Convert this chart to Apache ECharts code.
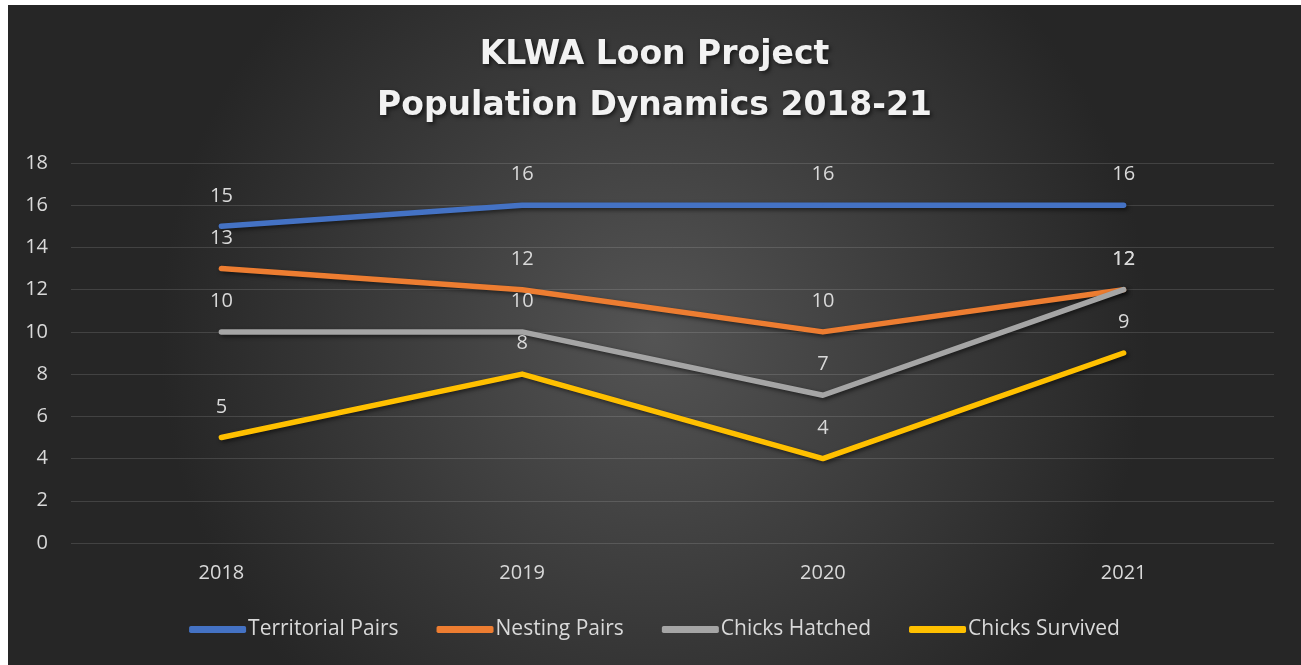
<!DOCTYPE html>
<html>
<head>
<meta charset="utf-8">
<script src="https://cdn.jsdelivr.net/npm/echarts@6/dist/echarts.min.js"></script>
<style>
  html, body { margin: 0; padding: 0; background: #ffffff; }
  #chart { position: absolute; left: 8px; top: 5px; width: 1293px; height: 660px; }
</style>
</head>
<body>
<div id="chart"></div>
<script>
const categories = ['2018', '2019', '2020', '2021'];
const territorialPairs = [15, 16, 16, 16];
const nestingPairs = [13, 12, 10, 12];
const chicksHatched = [10, 10, 7, 12];
const chicksSurvived = [5, 8, 4, 9];
const seriesNames = ['Territorial Pairs', 'Nesting Pairs', 'Chicks Hatched', 'Chicks Survived'];
const seriesColors = ['#4472C4', '#ED7D31', '#A5A5A5', '#FFC000'];
const seriesData = [territorialPairs, nestingPairs, chicksHatched, chicksSurvived];

const FONT = 'Open Sans';
const chart = echarts.init(document.getElementById('chart'));

const series = seriesData.map((d, i) => ({
  name: seriesNames[i],
  type: 'line',
  data: d,
  symbol: 'circle',
  symbolSize: 1,
  itemStyle: { color: seriesColors[i] },
  lineStyle: {
    width: 5.5,
    color: seriesColors[i],
    cap: 'round',
    join: 'round',
    shadowColor: 'rgba(0,0,0,0.55)',
    shadowBlur: 4,
    shadowOffsetX: 2,
    shadowOffsetY: 2
  },
  label: {
    show: true,
    position: 'top',
    distance: 20,
    color: '#d9d9d9',
    fontSize: 20,
    fontFamily: FONT
  },
  emphasis: { disabled: true },
  z: 2 + i
}));

chart.setOption({
  animation: false,
  backgroundColor: {
    type: 'radial', x: 0.5, y: 0.5, r: 0.75,
    colorStops: [
      { offset: 0, color: '#545454' },
      { offset: 1, color: '#262626' }
    ]
  },
  title: {
    text: 'KLWA Loon Project\nPopulation Dynamics 2018-21',
    left: 'center',
    top: 20,
    textStyle: {
      color: '#f2f2f2',
      fontFamily: 'DejaVu Sans',
      fontWeight: 'bold',
      fontSize: 33,
      lineHeight: 51,
      textShadowColor: 'rgba(0,0,0,0.6)',
      textShadowBlur: 4,
      textShadowOffsetX: 2,
      textShadowOffsetY: 2
    }
  },
  legend: {
    bottom: 20,
    left: 'center',
    itemWidth: 57,
    itemHeight: 7,
    itemGap: 38,
    icon: 'roundRect',
    data: seriesNames.map((n, i) => ({ name: n, icon: 'roundRect', itemStyle: { color: seriesColors[i] } })),
    textStyle: { color: '#d9d9d9', fontSize: 21, fontFamily: FONT, padding: [0, 0, 0, -3] }
  },
  grid: { left: 63, right: 27, top: 158, bottom: 122, containLabel: false },
  xAxis: {
    type: 'category',
    data: categories,
    boundaryGap: true,
    axisLine: { show: false },
    axisTick: { show: false },
    axisLabel: { color: '#d9d9d9', fontSize: 20, fontFamily: FONT, margin: 20 }
  },
  yAxis: {
    type: 'value',
    min: 0, max: 18, interval: 2,
    axisLine: { show: false },
    axisTick: { show: false },
    axisLabel: { color: '#d9d9d9', fontSize: 20, fontFamily: FONT, margin: 23 },
    splitLine: { lineStyle: { color: 'rgba(255,255,255,0.13)', width: 1 } }
  },
  series: series
});
</script>
</body>
</html>
